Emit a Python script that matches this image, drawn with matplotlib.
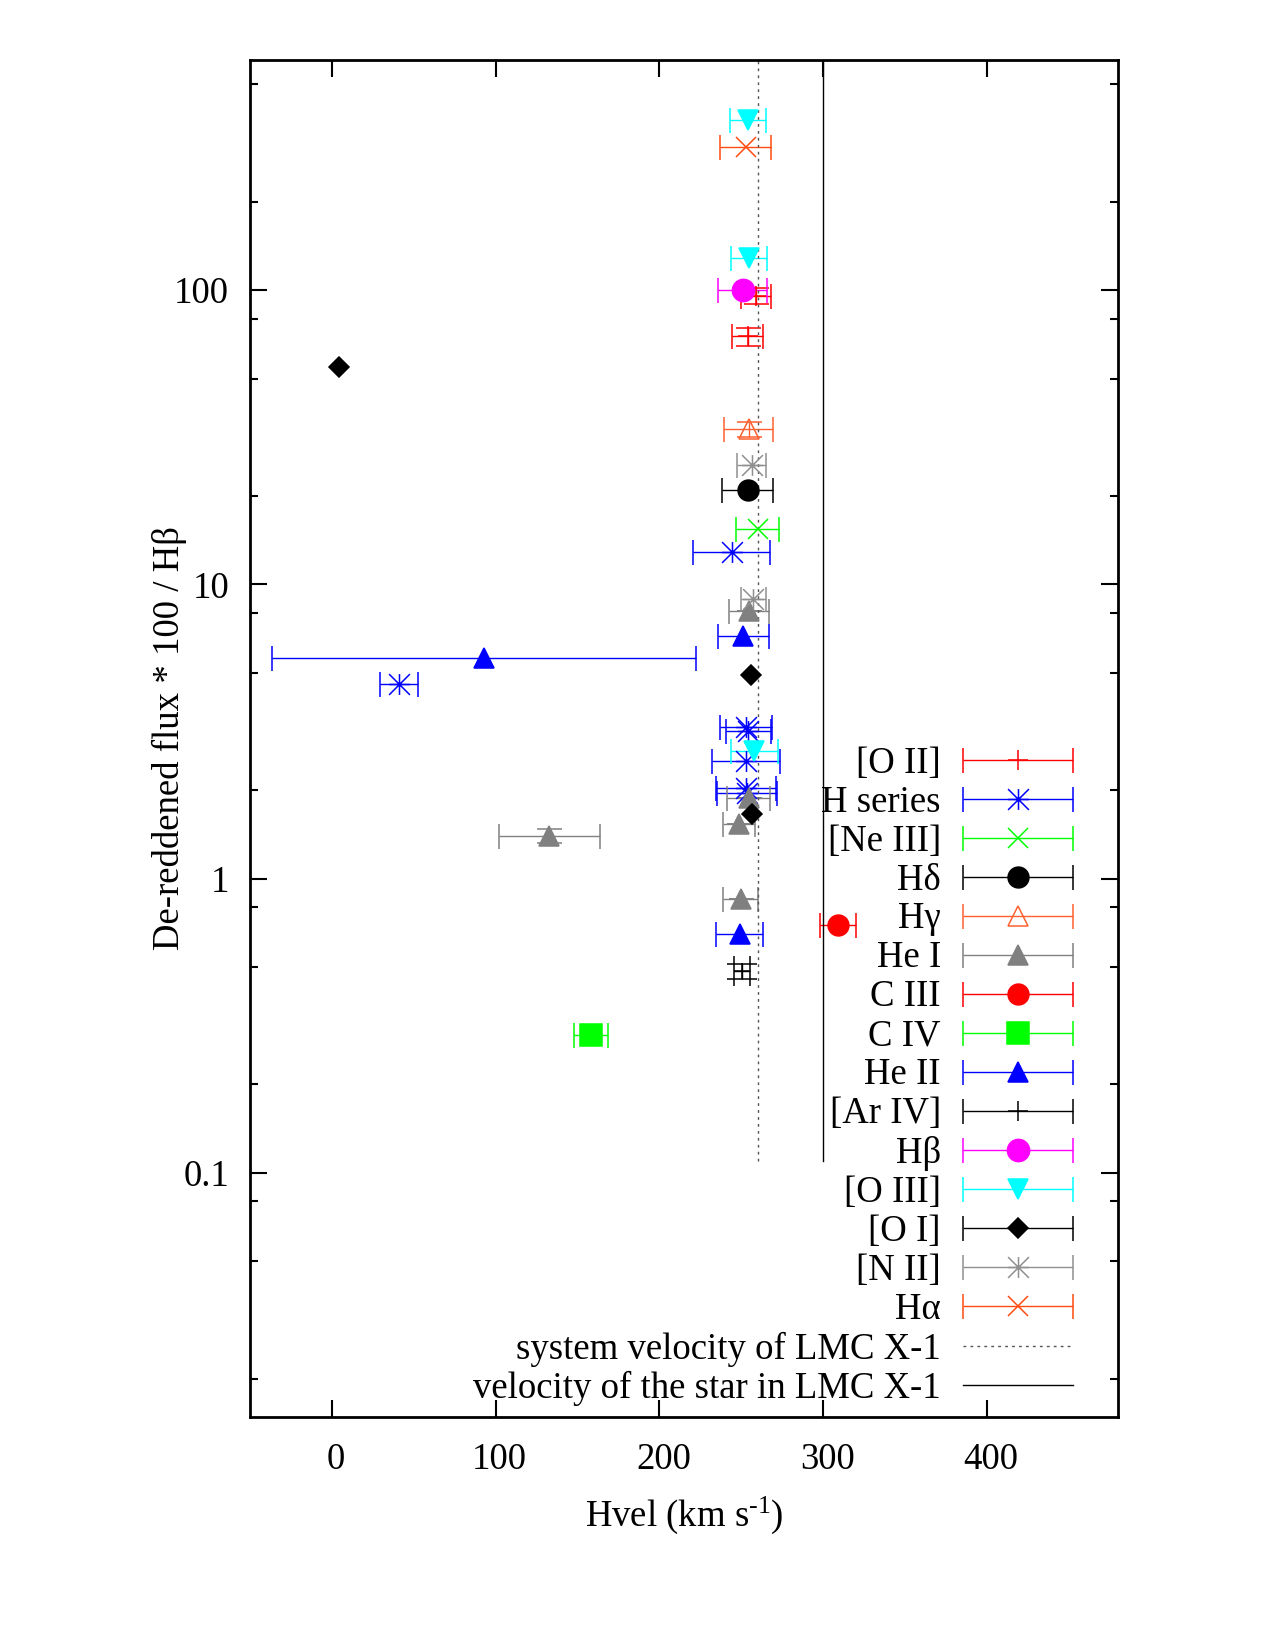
import matplotlib
matplotlib.use("Agg")
import matplotlib.pyplot as plt
from matplotlib.path import Path
from matplotlib.transforms import ScaledTranslation
from matplotlib.container import ErrorbarContainer
from matplotlib.legend_handler import HandlerErrorbar
from matplotlib.ticker import LogLocator, FixedLocator, FuncFormatter, NullFormatter

plt.rcParams['font.family'] = ['Liberation Serif', 'DejaVu Serif']
plt.rcParams['mathtext.fontset'] = 'custom'
plt.rcParams['mathtext.rm'] = 'Liberation Serif'
plt.rcParams['mathtext.it'] = 'Liberation Serif:italic'
plt.rcParams['font.size'] = 26.5

FS = 26.5

# ---- data: velocity (km/s), its error, flux*100/Hb, flux error ----
oii_v = [258.8, 253.8]
oii_ve = [9.0, 9.5]
oii_f = [95.7, 69.6]
oii_fe = [6.0, 5.0]

hser_v = [244.0, 40.8, 253.0, 254.3, 252.8, 252.9, 253.5]
hser_ve = [23.4, 11.5, 16.0, 13.8, 20.6, 18.5, 18.3]
hser_f = [12.9, 4.6, 3.27, 3.17, 2.51, 2.03, 1.96]

neiii_v = [259.9]
neiii_ve = [13.0]
neiii_f = [15.45]

hd_v = [253.9]
hd_ve = [15.5]
hd_f = [21.0]

hg_v = [254.4]
hg_ve = [15.2]
hg_f = [33.6]
hg_fe = [2.0]

hei_v = [254.7, 254.5, 248.4, 249.7, 132.7]
hei_ve = [12.4, 13.0, 9.9, 10.7, 30.7]
hei_f = [8.11, 1.876, 1.535, 0.853, 1.40]
hei_fe = [0.0, 0.0, 0.0, 0.0, 0.08]

ciii_v = [309.2]
ciii_ve = [11.0]
ciii_f = [0.698]

civ_v = [158.0]
civ_ve = [10.3]
civ_f = [0.293]

heii_v = [251.3, 92.9, 249.0]
heii_ve = [15.3, 129.7, 14.2]
heii_f = [6.68, 5.63, 0.649]

ariv_v = [250.4]
ariv_ve = [4.6]
ariv_f = [0.4835]
ariv_fe = [0.029]

hb_v = [250.7]
hb_ve = [15.0]
hb_f = [100.0]

oiii_v = [254.1, 254.7, 257.8]
oiii_ve = [10.9, 10.9, 14.4]
oiii_f = [379.0, 128.5, 2.72]

oi_v = [4.6, 255.8, 256.2]
oi_ve = None
oi_f = [54.6, 4.92, 1.66]

nii_v = [256.2, 257.2]
nii_ve = [9.0, 7.7]
nii_f = [25.5, 8.9]

ha_v = [252.7]
ha_ve = [15.6]
ha_f = [307.0]

v_sys = 260.0
v_star = 300.0
vline_f = [0.11, 2000.0]

# gnuplot style "+ and x" point
starpt = Path([(-1, 0), (1, 0), (0, -1), (0, 1), (-1, -1), (1, 1), (-1, 1), (1, -1)],
              [Path.MOVETO, Path.LINETO] * 4)

series = [
    ("[O II]", oii_v, oii_ve, oii_f, oii_fe, dict(marker='+', ms=15, color='#ff0000', mfc='#ff0000')),
    ("H series", hser_v, hser_ve, hser_f, None, dict(marker=starpt, ms=15, color='#0000ff', mfc='#0000ff')),
    ("[Ne III]", neiii_v, neiii_ve, neiii_f, None, dict(marker='x', ms=15, color='#00ff00', mfc='#00ff00')),
    ("H\u03b4", hd_v, hd_ve, hd_f, None, dict(marker='o', ms=15, color='#000000', mfc='#000000')),
    ("H\u03b3", hg_v, hg_ve, hg_f, hg_fe, dict(marker='^', ms=15, color='#ff6030', mfc='none')),
    ("He I", hei_v, hei_ve, hei_f, hei_fe, dict(marker='^', ms=14, color='#808080', mfc='#808080')),
    ("C III", ciii_v, ciii_ve, ciii_f, None, dict(marker='o', ms=15, color='#ff0000', mfc='#ff0000')),
    ("C IV", civ_v, civ_ve, civ_f, None, dict(marker='s', ms=16, color='#00ff00', mfc='#00ff00')),
    ("He II", heii_v, heii_ve, heii_f, None, dict(marker='^', ms=14, color='#0000ff', mfc='#0000ff')),
    ("[Ar IV]", ariv_v, ariv_ve, ariv_f, ariv_fe, dict(marker='+', ms=15, color='#000000', mfc='#000000',
                                                       pt_ms=11, cap=10.8)),
    ("H\u03b2", hb_v, hb_ve, hb_f, None, dict(marker='o', ms=16, color='#ff00ff', mfc='#ff00ff')),
    ("[O III]", oiii_v, oiii_ve, oiii_f, None, dict(marker='v', ms=14, color='#00ffff', mfc='#00ffff')),
    ("[O I]", oi_v, oi_ve, oi_f, None, dict(marker='D', ms=10, color='#000000', mfc='#000000')),
    ("[N II]", nii_v, nii_ve, nii_f, None, dict(marker=starpt, ms=15, color='#909090', mfc='#909090')),
    ("H\u03b1", ha_v, ha_ve, ha_f, None, dict(marker='x', ms=15, color='#ff4a10', mfc='#ff4a10')),
]

fig = plt.figure(figsize=(12.75, 16.5), dpi=100)
ax = fig.add_axes([0.1961, 0.1412, 0.6808, 0.8224])

handles = []
labels = []
for name, v, ve, f, fe, st in series:
    ax.errorbar(v, f, xerr=ve, yerr=fe, linestyle='none', marker=st['marker'],
                ms=st.get('pt_ms', st['ms']), color=st['color'], mfc=st['mfc'],
                mec=st['color'], mew=1.1, ecolor=st['color'], elinewidth=1.0,
                capsize=st.get('cap', 9), capthick=1.0)
    # key entry: same style, horizontal bar only, nothing drawn in the plot
    key = ax.errorbar([float('nan')], [float('nan')], xerr=[1.0], linestyle='none',
                      marker=st['marker'], ms=st['ms'], color=st['color'], mfc=st['mfc'],
                      mec=st['color'], mew=1.1, ecolor=st['color'], elinewidth=1.0,
                      capsize=9, capthick=1.0)
    handles.append(key)
    labels.append(name)

l1, = ax.plot([v_sys, v_sys], vline_f, color='#555555', lw=1.0, linestyle=(0, (2, 3)))
l2, = ax.plot([v_star, v_star], vline_f, color='#000000', lw=1.0)
handles += [l1, l2]
labels += ["system velocity of LMC X-1", "velocity of the star in LMC X-1"]

ax.set_yscale('log')
ax.set_xlim(-50, 480)
ax.set_ylim(0.0148, 605)
ax.xaxis.set_major_locator(FixedLocator([0, 100, 200, 300, 400]))
ax.yaxis.set_major_locator(LogLocator(base=10, numticks=12))
ax.yaxis.set_minor_locator(LogLocator(base=10, subs=(2, 5, 8), numticks=12))
ax.yaxis.set_minor_formatter(NullFormatter())
ax.yaxis.set_major_formatter(FuncFormatter(lambda y, p: '%g' % y))

ax.tick_params(which='both', direction='in', top=True, right=True, labelsize=FS)
ax.tick_params(which='major', length=12, width=1.5)
ax.tick_params(which='minor', length=6, width=1.5)
ax.tick_params(axis='x', pad=18)
ax.tick_params(axis='y', pad=15)
for s in ax.spines.values():
    s.set_linewidth(2)

# gnuplot puts the x numbers a little right of their tics
shift = ScaledTranslation(4 / 100, 0, fig.dpi_scale_trans)
for lab in ax.get_xticklabels():
    lab.set_transform(lab.get_transform() + shift)

ax.set_xlabel('Hvel (km s$^{\\text{-1}}$)', fontsize=FS)
ax.set_ylabel('De-reddened flux * 100 / H\u03b2', fontsize=FS)
ax.xaxis.set_label_coords(0.5, -0.057)
ax.yaxis.set_label_coords(-0.073, 0.5)

ax.legend(handles, labels, loc='lower right', bbox_to_anchor=(0.948, 0.008),
          frameon=False, markerfirst=False, handlelength=2.99, handletextpad=0.6,
          labelspacing=0.122, borderpad=0, borderaxespad=0, numpoints=1, fontsize=FS,
          handler_map={ErrorbarContainer: HandlerErrorbar(xerr_size=1.495)})

fig.savefig('out.png', dpi=100)
